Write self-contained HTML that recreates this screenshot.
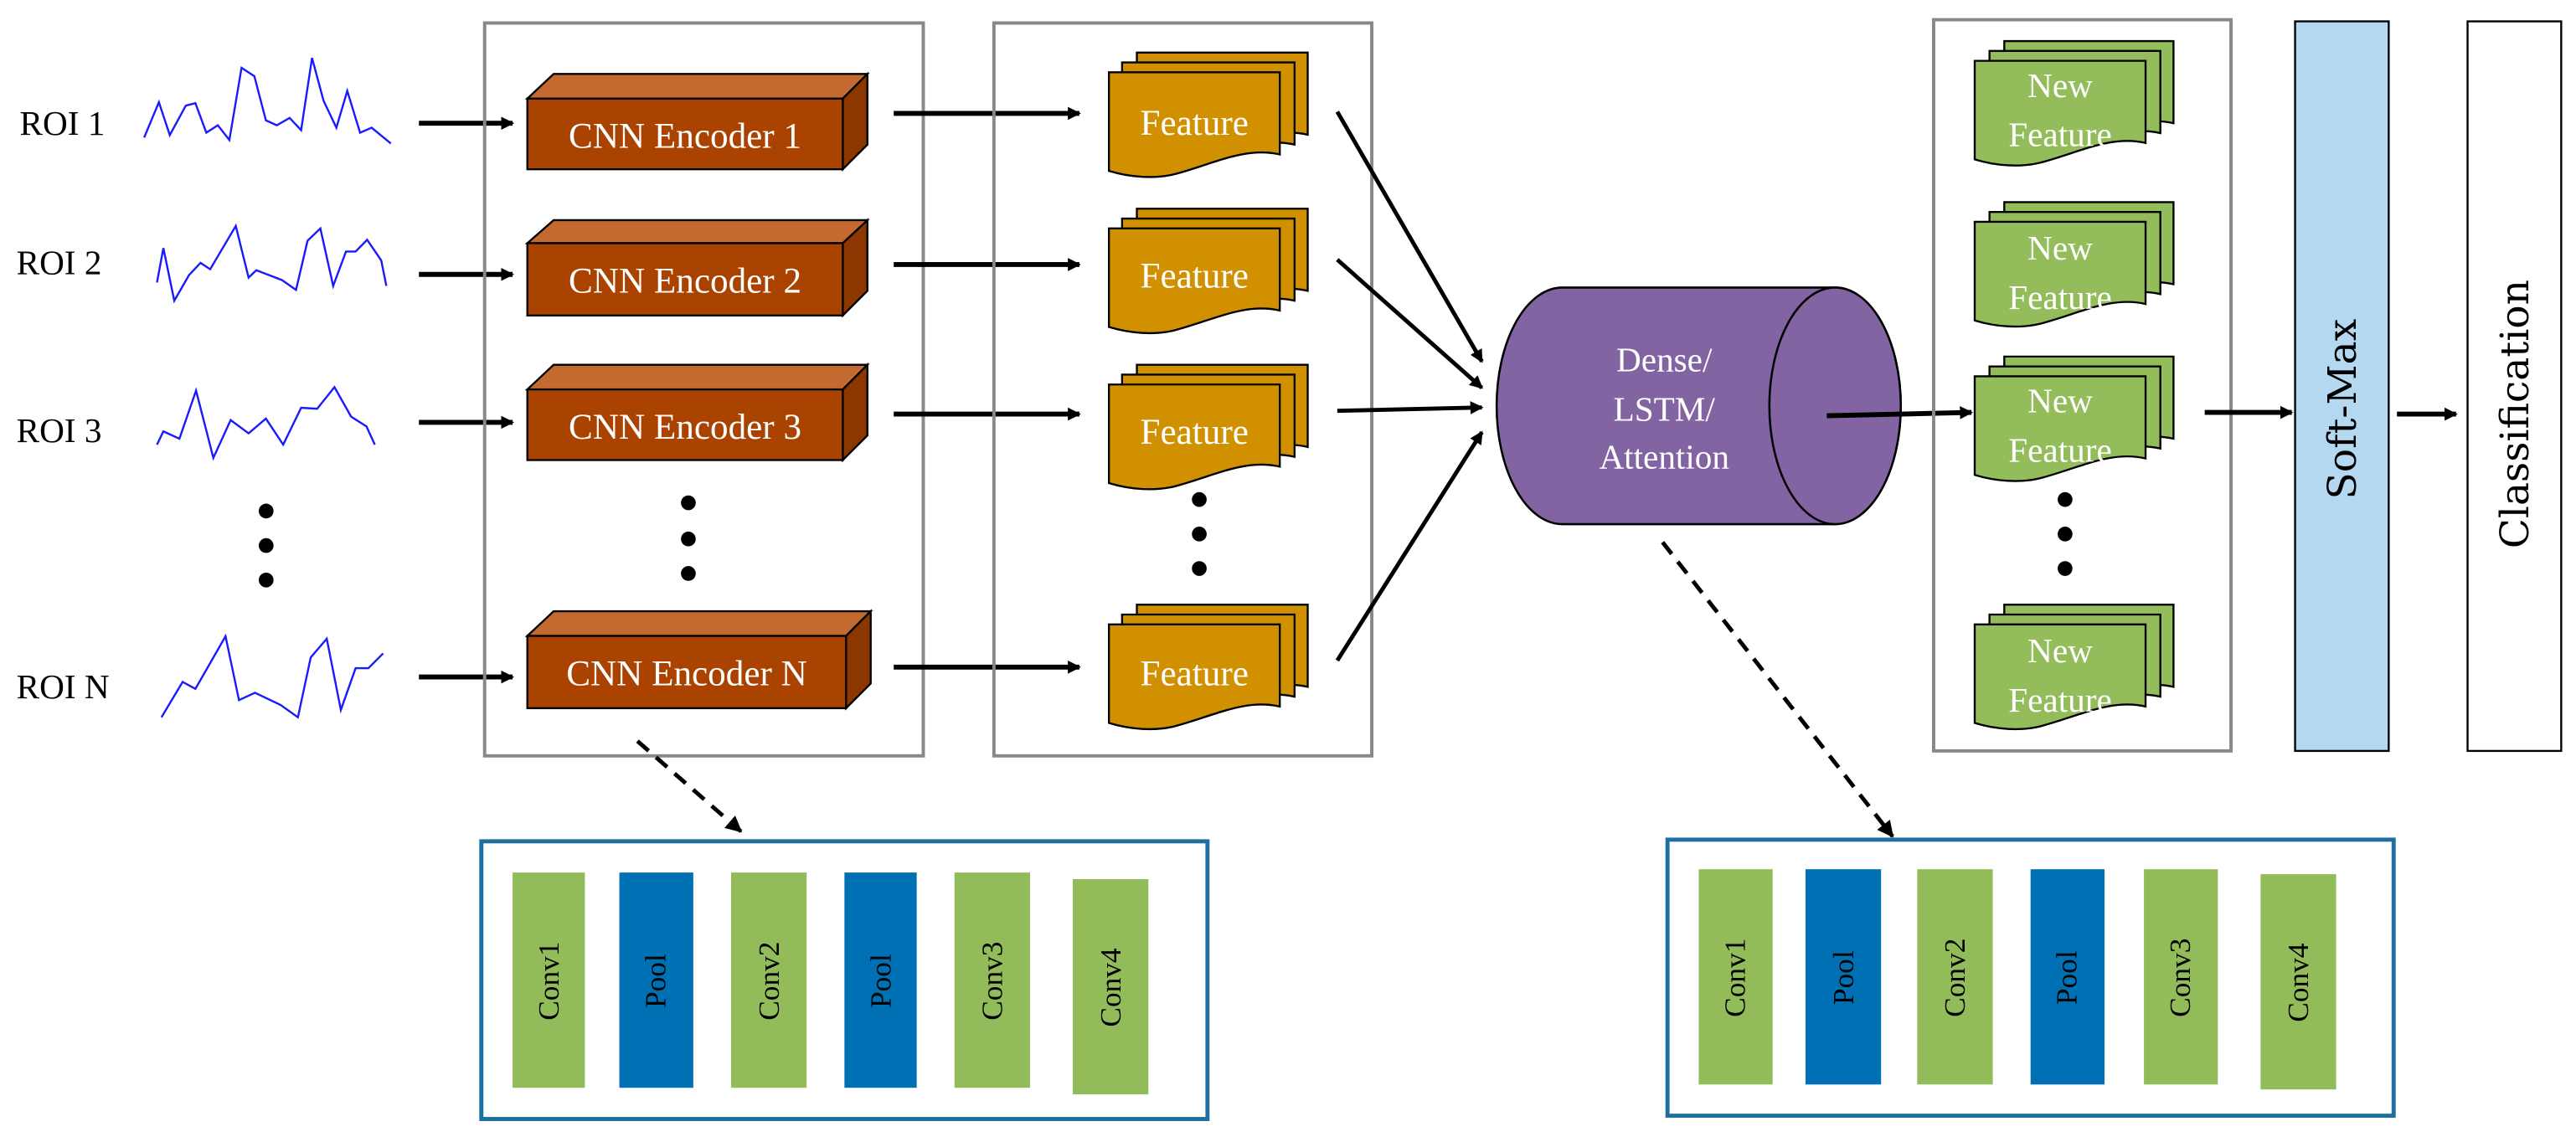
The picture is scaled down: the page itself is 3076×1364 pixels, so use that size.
<!DOCTYPE html>
<html><head><meta charset="utf-8"><style>
html,body{margin:0;padding:0;background:#fff;}
svg{display:block;}
svg text{font-family:"Liberation Serif","DejaVu Serif",serif;}
</style></head><body>
<svg width="3076" height="1364" viewBox="0 0 1568 695" preserveAspectRatio="none" xmlns="http://www.w3.org/2000/svg" font-family="Liberation Serif, serif">
<defs>
<marker id="ah" markerWidth="8" markerHeight="8" refX="7" refY="4" orient="auto" markerUnits="userSpaceOnUse"><path d="M0,0 L8,4 L0,8 Z" fill="#000"/></marker>
<marker id="ah2" markerWidth="10" markerHeight="10" refX="9" refY="5" orient="auto" markerUnits="userSpaceOnUse"><path d="M0,0 L10,5 L0,10 Z" fill="#000"/></marker>
<g id="feat">
<path d="M17,-12 H121 V38 C100,33 80,44 57,50 C45,53 30,52 17,48 Z" fill="#d09000" stroke="#000" stroke-width="1.2"/>
<path d="M8,-6 H113 V44 C92,39 72,50 49,56 C37,59 22,58 8,54 Z" fill="#d09000" stroke="#000" stroke-width="1.2"/>
<path d="M0,0 H104 V50 C83,45 63,56 40,62 C28,65 13,64 0,60 Z" fill="#d09000" stroke="#000" stroke-width="1.2"/>
</g>
<g id="nfeat">
<path d="M18,-12 H121 V38 C100,33 80,44 57,50 C45,53 30,52 18,48 Z" fill="#92bd5a" stroke="#000" stroke-width="1.2"/>
<path d="M9,-6 H113 V44 C92,39 72,50 49,56 C37,59 22,58 9,54 Z" fill="#92bd5a" stroke="#000" stroke-width="1.2"/>
<path d="M0,0 H104 V50 C83,45 63,56 40,62 C28,65 13,64 0,60 Z" fill="#92bd5a" stroke="#000" stroke-width="1.2"/>
</g>
</defs>

<g font-size="21" fill="#000">
<text x="12" y="82">ROI 1</text>
<text x="10" y="167">ROI 2</text>
<text x="10" y="269">ROI 3</text>
<text x="10" y="425">ROI N</text>
</g>
<g transform="scale(0.39 0.299)" fill="none" stroke="#1a1aff" stroke-width="2.4">
<polyline vector-effect="non-scaling-stroke" points="225,280 248,208 265,275 290,215 305,210 322,270 340,255 358,285 377,138 397,155 415,245 432,255 452,240 470,265 487,118 505,205 525,260 542,185 562,270 580,260 610,292"/>
<polyline vector-effect="non-scaling-stroke" points="245,575 255,505 272,612 295,560 313,535 328,548 368,460 388,565 400,550 440,570 462,590 480,490 500,465 520,582 540,512 555,512 573,488 595,530 603,582"/>
<polyline vector-effect="non-scaling-stroke" points="245,905 255,878 280,893 306,795 333,932 360,855 388,882 415,852 442,905 470,830 495,832 522,788 548,848 572,868 585,905"/>
<polyline vector-effect="non-scaling-stroke" points="252,1460 285,1388 305,1402 352,1295 373,1425 398,1410 438,1435 465,1460 485,1338 510,1300 532,1445 555,1360 575,1360 598,1330"/>
</g>
<g fill="#000"><circle cx="162" cy="311" r="4.5"/><circle cx="162" cy="332" r="4.5"/><circle cx="162" cy="353" r="4.5"/></g>
<g stroke="#000" stroke-width="3" marker-end="url(#ah)">
<line x1="255" y1="75" x2="312" y2="75"/>
<line x1="255" y1="167" x2="312" y2="167"/>
<line x1="255" y1="257" x2="312" y2="257"/>
<line x1="255" y1="412" x2="312" y2="412"/>
</g>

<rect x="295" y="14" width="267" height="446" fill="none" stroke="#888" stroke-width="2"/>
<g stroke="#000" stroke-width="1.2">
<g><path d="M321,60 L337,45 H528 L513,60 Z" fill="#c46a30"/><path d="M513,60 L528,45 V88 L513,103 Z" fill="#8c3600"/><rect x="321" y="60" width="192" height="43" fill="#ab4300"/></g>
<g><path d="M321,148 L337,134 H528 L513,148 Z" fill="#c46a30"/><path d="M513,148 L528,134 V177 L513,192 Z" fill="#8c3600"/><rect x="321" y="148" width="192" height="44" fill="#ab4300"/></g>
<g><path d="M321,237 L337,222 H528 L513,237 Z" fill="#c46a30"/><path d="M513,237 L528,222 V265 L513,280 Z" fill="#8c3600"/><rect x="321" y="237" width="192" height="43" fill="#ab4300"/></g>
<g><path d="M321,387 L337,372 H530 L515,387 Z" fill="#c46a30"/><path d="M515,387 L530,372 V416 L515,431 Z" fill="#8c3600"/><rect x="321" y="387" width="194" height="44" fill="#ab4300"/></g>
</g>
<g font-size="22" fill="#fff" text-anchor="middle">
<text x="417" y="90">CNN Encoder 1</text>
<text x="417" y="178">CNN Encoder 2</text>
<text x="417" y="267">CNN Encoder 3</text>
<text x="418" y="417">CNN Encoder N</text>
</g>
<g fill="#000"><circle cx="419" cy="306" r="4.5"/><circle cx="419" cy="328" r="4.5"/><circle cx="419" cy="349" r="4.5"/></g>

<g stroke="#000" stroke-width="3" marker-end="url(#ah)">
<line x1="544" y1="69" x2="657" y2="69"/>
<line x1="544" y1="161" x2="657" y2="161"/>
<line x1="544" y1="252" x2="657" y2="252"/>
<line x1="544" y1="406" x2="657" y2="406"/>
</g>

<rect x="605" y="14" width="230" height="446" fill="none" stroke="#888" stroke-width="2"/>
<use href="#feat" x="675" y="44"/>
<use href="#feat" x="675" y="139"/>
<use href="#feat" x="675" y="234"/>
<use href="#feat" x="675" y="380"/>
<g font-size="22" fill="#fff" text-anchor="middle">
<text x="727" y="82">Feature</text>
<text x="727" y="175">Feature</text>
<text x="727" y="270">Feature</text>
<text x="727" y="417">Feature</text>
</g>
<g fill="#000"><circle cx="730" cy="304" r="4.5"/><circle cx="730" cy="325" r="4.5"/><circle cx="730" cy="346" r="4.5"/></g>

<g stroke="#000" stroke-width="2.5" marker-end="url(#ah)">
<line x1="814" y1="68" x2="902" y2="220"/>
<line x1="814" y1="158" x2="902" y2="236"/>
<line x1="814" y1="250" x2="902" y2="248"/>
<line x1="814" y1="402" x2="902" y2="263"/>
</g>

<path d="M951,175 H1117 A40,72 0 0 1 1117,319 H951 A40,72 0 0 1 951,175 Z" fill="#8264a2" stroke="#000" stroke-width="1.3"/>
<ellipse cx="1117" cy="247" rx="40" ry="72" fill="#8264a2" stroke="#000" stroke-width="1.3"/>
<g font-size="21" fill="#fff" text-anchor="middle">
<text x="1013" y="226">Dense/</text>
<text x="1013" y="256">LSTM/</text>
<text x="1013" y="285">Attention</text>
</g>
<line x1="1112" y1="253" x2="1200" y2="251" stroke="#000" stroke-width="3" marker-end="url(#ah)"/>

<rect x="1177" y="12" width="181" height="445" fill="none" stroke="#888" stroke-width="2"/>
<use href="#nfeat" x="1202" y="37"/>
<use href="#nfeat" x="1202" y="135"/>
<use href="#nfeat" x="1202" y="229"/>
<use href="#nfeat" x="1202" y="380"/>
<g font-size="21" fill="#fff" text-anchor="middle">
<text x="1254" y="59">New</text><text x="1254" y="89">Feature</text>
<text x="1254" y="158">New</text><text x="1254" y="188">Feature</text>
<text x="1254" y="251">New</text><text x="1254" y="281">Feature</text>
<text x="1254" y="403">New</text><text x="1254" y="433">Feature</text>
</g>
<g fill="#000"><circle cx="1257" cy="304" r="4.5"/><circle cx="1257" cy="325" r="4.5"/><circle cx="1257" cy="346" r="4.5"/></g>

<line x1="1342" y1="251" x2="1395" y2="251" stroke="#000" stroke-width="3" marker-end="url(#ah)"/>
<rect x="1397" y="13" width="57" height="444" fill="#b4d8ef" stroke="#000" stroke-width="1.2"/>
<text transform="translate(1434,249) rotate(-90)" font-size="24" text-anchor="middle" fill="#000" style="font-family:'DejaVu Serif',serif">Soft-Max</text>
<line x1="1459" y1="252" x2="1495" y2="252" stroke="#000" stroke-width="3" marker-end="url(#ah)"/>
<rect x="1502" y="13" width="57" height="444" fill="#fff" stroke="#000" stroke-width="1.2"/>
<text transform="translate(1539,252) rotate(-90)" font-size="24" text-anchor="middle" fill="#000" style="font-family:'DejaVu Serif',serif">Classification</text>

<line x1="388" y1="451" x2="451" y2="506" stroke="#000" stroke-width="2.5" stroke-dasharray="9,6" marker-end="url(#ah2)"/>
<line x1="1012" y1="330" x2="1152" y2="509" stroke="#000" stroke-width="2.5" stroke-dasharray="9,6" marker-end="url(#ah2)"/>

<rect x="293" y="512" width="442" height="169" fill="#fff" stroke="#1f6fa0" stroke-width="2.5"/>
<g>
<rect x="312" y="531" width="44" height="131" fill="#92bc5a"/>
<rect x="377" y="531" width="45" height="131" fill="#0070b4"/>
<rect x="445" y="531" width="46" height="131" fill="#92bc5a"/>
<rect x="514" y="531" width="44" height="131" fill="#0070b4"/>
<rect x="581" y="531" width="46" height="131" fill="#92bc5a"/>
<rect x="653" y="535" width="46" height="131" fill="#92bc5a"/>
</g>
<g font-size="18" fill="#000" text-anchor="middle" style="font-family:'DejaVu Serif',serif">
<text transform="translate(340,597) rotate(-90)">Conv1</text>
<text transform="translate(405,597) rotate(-90)">Pool</text>
<text transform="translate(474,597) rotate(-90)">Conv2</text>
<text transform="translate(542,597) rotate(-90)">Pool</text>
<text transform="translate(610,597) rotate(-90)">Conv3</text>
<text transform="translate(682,601) rotate(-90)">Conv4</text>
</g>

<rect x="1015" y="511" width="442" height="168" fill="#fff" stroke="#1f6fa0" stroke-width="2.5"/>
<g>
<rect x="1034" y="529" width="45" height="131" fill="#92bc5a"/>
<rect x="1099" y="529" width="46" height="131" fill="#0070b4"/>
<rect x="1167" y="529" width="46" height="131" fill="#92bc5a"/>
<rect x="1236" y="529" width="45" height="131" fill="#0070b4"/>
<rect x="1305" y="529" width="45" height="131" fill="#92bc5a"/>
<rect x="1376" y="532" width="46" height="131" fill="#92bc5a"/>
</g>
<g font-size="18" fill="#000" text-anchor="middle" style="font-family:'DejaVu Serif',serif">
<text transform="translate(1062,595) rotate(-90)">Conv1</text>
<text transform="translate(1128,595) rotate(-90)">Pool</text>
<text transform="translate(1196,595) rotate(-90)">Conv2</text>
<text transform="translate(1264,595) rotate(-90)">Pool</text>
<text transform="translate(1333,595) rotate(-90)">Conv3</text>
<text transform="translate(1405,598) rotate(-90)">Conv4</text>
</g>
</svg>
</body></html>
